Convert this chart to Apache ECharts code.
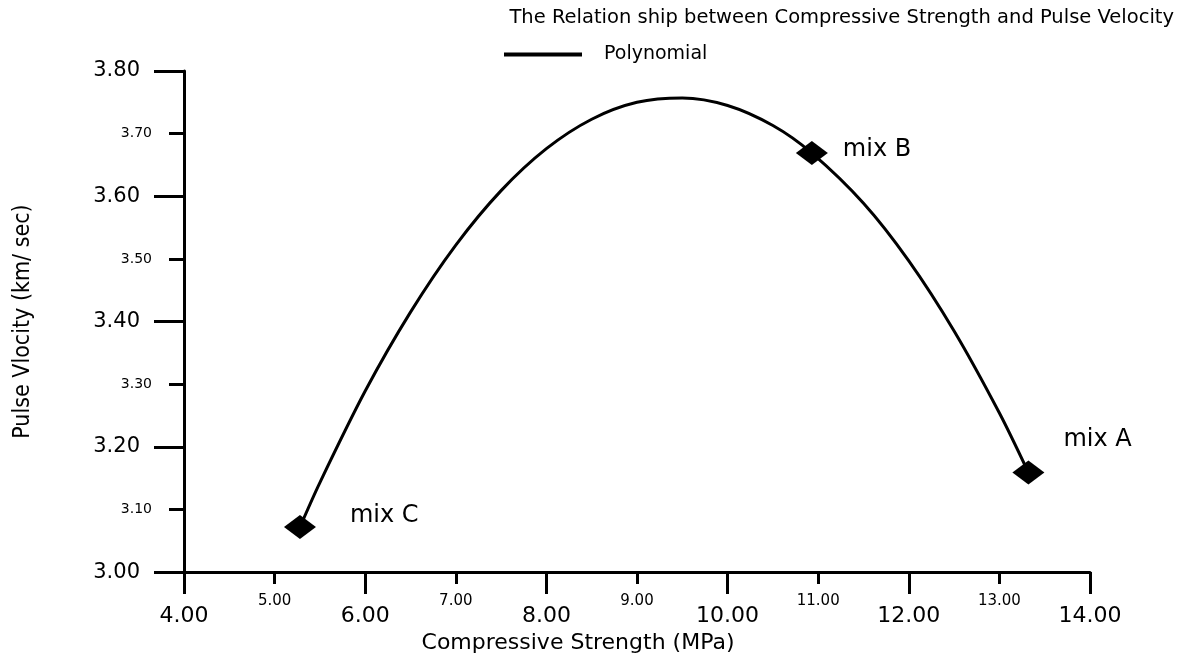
<!DOCTYPE html>
<html>
<head>
<meta charset="utf-8">
<script src="https://cdn.jsdelivr.net/npm/echarts@6/dist/echarts.min.js"></script>
<style>html,body{margin:0;padding:0;background:#fff}#c{width:1184px;height:659px}</style>
</head>
<body>
<div id="c"></div>
<script>
// ---- data ----
var titleText = 'The Relation ship between Compressive Strength and Pulse Velocity';
var legendName = 'Polynomial';
var xAxisName = 'Compressive Strength (MPa)';
var yAxisName = 'Pulse Vlocity (km/ sec)';

var mixNames = ['mix C', 'mix B', 'mix A'];
var mixStrength = [5.28, 10.93, 13.32];
var mixVelocity = [3.072, 3.669, 3.159];

var curveStrength = [5.28, 5.5, 6.0, 6.5, 7.0, 7.5, 8.0, 8.5, 9.0, 9.5, 10.0, 10.5, 10.93, 11.5, 12.0, 12.5, 13.0, 13.32];
var curveVelocity = [3.072, 3.143, 3.289, 3.415, 3.522, 3.609, 3.676, 3.723, 3.750, 3.757, 3.745, 3.713, 3.669, 3.589, 3.497, 3.385, 3.254, 3.159];

var xMin = 4, xMax = 14, yMin = 3.0, yMax = 3.8;

// ---- build ----
var FONT = '"DejaVu Sans", "Liberation Sans", sans-serif';
var labelOffsets = { 'mix C': [34, -11], 'mix B': [15, -3], 'mix A': [19, -33] };

var curveData = curveStrength.map(function (x, i) { return [x, curveVelocity[i]]; });
var mixData = mixNames.map(function (n, i) {
  return {
    name: n,
    value: [mixStrength[i], mixVelocity[i]],
    label: { offset: labelOffsets[n] }
  };
});

var black = '#000';
var chart = echarts.init(document.getElementById('c'), null, { renderer: 'canvas' });
chart.setOption({
  backgroundColor: '#fff',
  animation: false,
  title: {
    text: titleText,
    right: 5,
    top: 3,
    textStyle: { fontFamily: FONT, fontSize: 19.5, fontWeight: 'normal', color: black }
  },
  legend: {
    data: [legendName],
    left: 499,
    top: 40,
    icon: 'rect',
    itemWidth: 78,
    itemHeight: 4,
    itemStyle: { color: black, opacity: 1 },
    textStyle: { fontFamily: FONT, fontSize: 19, color: black, padding: [0, 0, 0, 17] }
  },
  grid: { left: 184, right: 94, top: 71, bottom: 86, containLabel: false },
  xAxis: [
    {
      type: 'value', min: xMin, max: xMax, interval: 2, position: 'bottom',
      name: xAxisName, nameLocation: 'middle', nameGap: 68,
      nameTextStyle: { fontFamily: FONT, fontSize: 22, color: black, verticalAlign: 'middle', padding: [0, 118, 0, 0] },
      axisLine: { show: true, lineStyle: { color: black, width: 3 } },
      axisTick: { show: true, length: 22, lineStyle: { color: black, width: 3 } },
      minorTick: { show: true, splitNumber: 2, length: 12, lineStyle: { color: black, width: 3 } },
      splitLine: { show: false },
      axisLabel: { fontFamily: FONT, fontSize: 22, color: black, margin: 33, formatter: function (v) { return v.toFixed(2); } }
    },
    {
      type: 'value', min: xMin, max: xMax, interval: 1, position: 'bottom',
      axisLine: { show: false }, axisTick: { show: false }, splitLine: { show: false },
      axisLabel: { fontFamily: FONT, fontSize: 15, color: black, margin: 22,
        formatter: function (v) { return Math.round(v) % 2 === 1 ? v.toFixed(2) : ''; } }
    }
  ],
  yAxis: [
    {
      type: 'value', min: yMin, max: yMax, interval: 0.2, position: 'left',
      name: yAxisName, nameLocation: 'middle', nameGap: 161,
      nameTextStyle: { fontFamily: '"DejaVu Sans Condensed", "Liberation Sans Narrow", "DejaVu Sans", sans-serif', fontSize: 23, color: black, verticalAlign: 'middle' },
      axisLine: { show: true, lineStyle: { color: black, width: 3 } },
      axisTick: { show: true, length: 30, lineStyle: { color: black, width: 3 } },
      minorTick: { show: true, splitNumber: 2, length: 15, lineStyle: { color: black, width: 3 } },
      splitLine: { show: false },
      axisLabel: { fontFamily: FONT, fontSize: 21, color: black, margin: 44, formatter: function (v) { return v.toFixed(2); } }
    },
    {
      type: 'value', min: yMin, max: yMax, interval: 0.1, position: 'left',
      axisLine: { show: false }, axisTick: { show: false }, splitLine: { show: false },
      axisLabel: { fontFamily: FONT, fontSize: 14, color: black, margin: 32,
        formatter: function (v) { return Math.round(v * 10) % 2 === 1 ? v.toFixed(2) : ''; } }
    }
  ],
  series: [
    {
      name: legendName,
      type: 'line',
      data: curveData,
      smooth: 0.3,
      showSymbol: false,
      symbol: 'none',
      lineStyle: { color: black, width: 3 },
      itemStyle: { color: black },
      z: 2
    },
    {
      name: 'mixes',
      type: 'scatter',
      data: mixData,
      symbol: 'diamond',
      symbolSize: [32, 24],
      itemStyle: { color: black, opacity: 1 },
      label: {
        show: true,
        position: 'right',
        distance: 0,
        formatter: '{b}',
        fontFamily: FONT,
        fontSize: 24,
        color: black
      },
      z: 3
    }
  ]
});
</script>
</body>
</html>
